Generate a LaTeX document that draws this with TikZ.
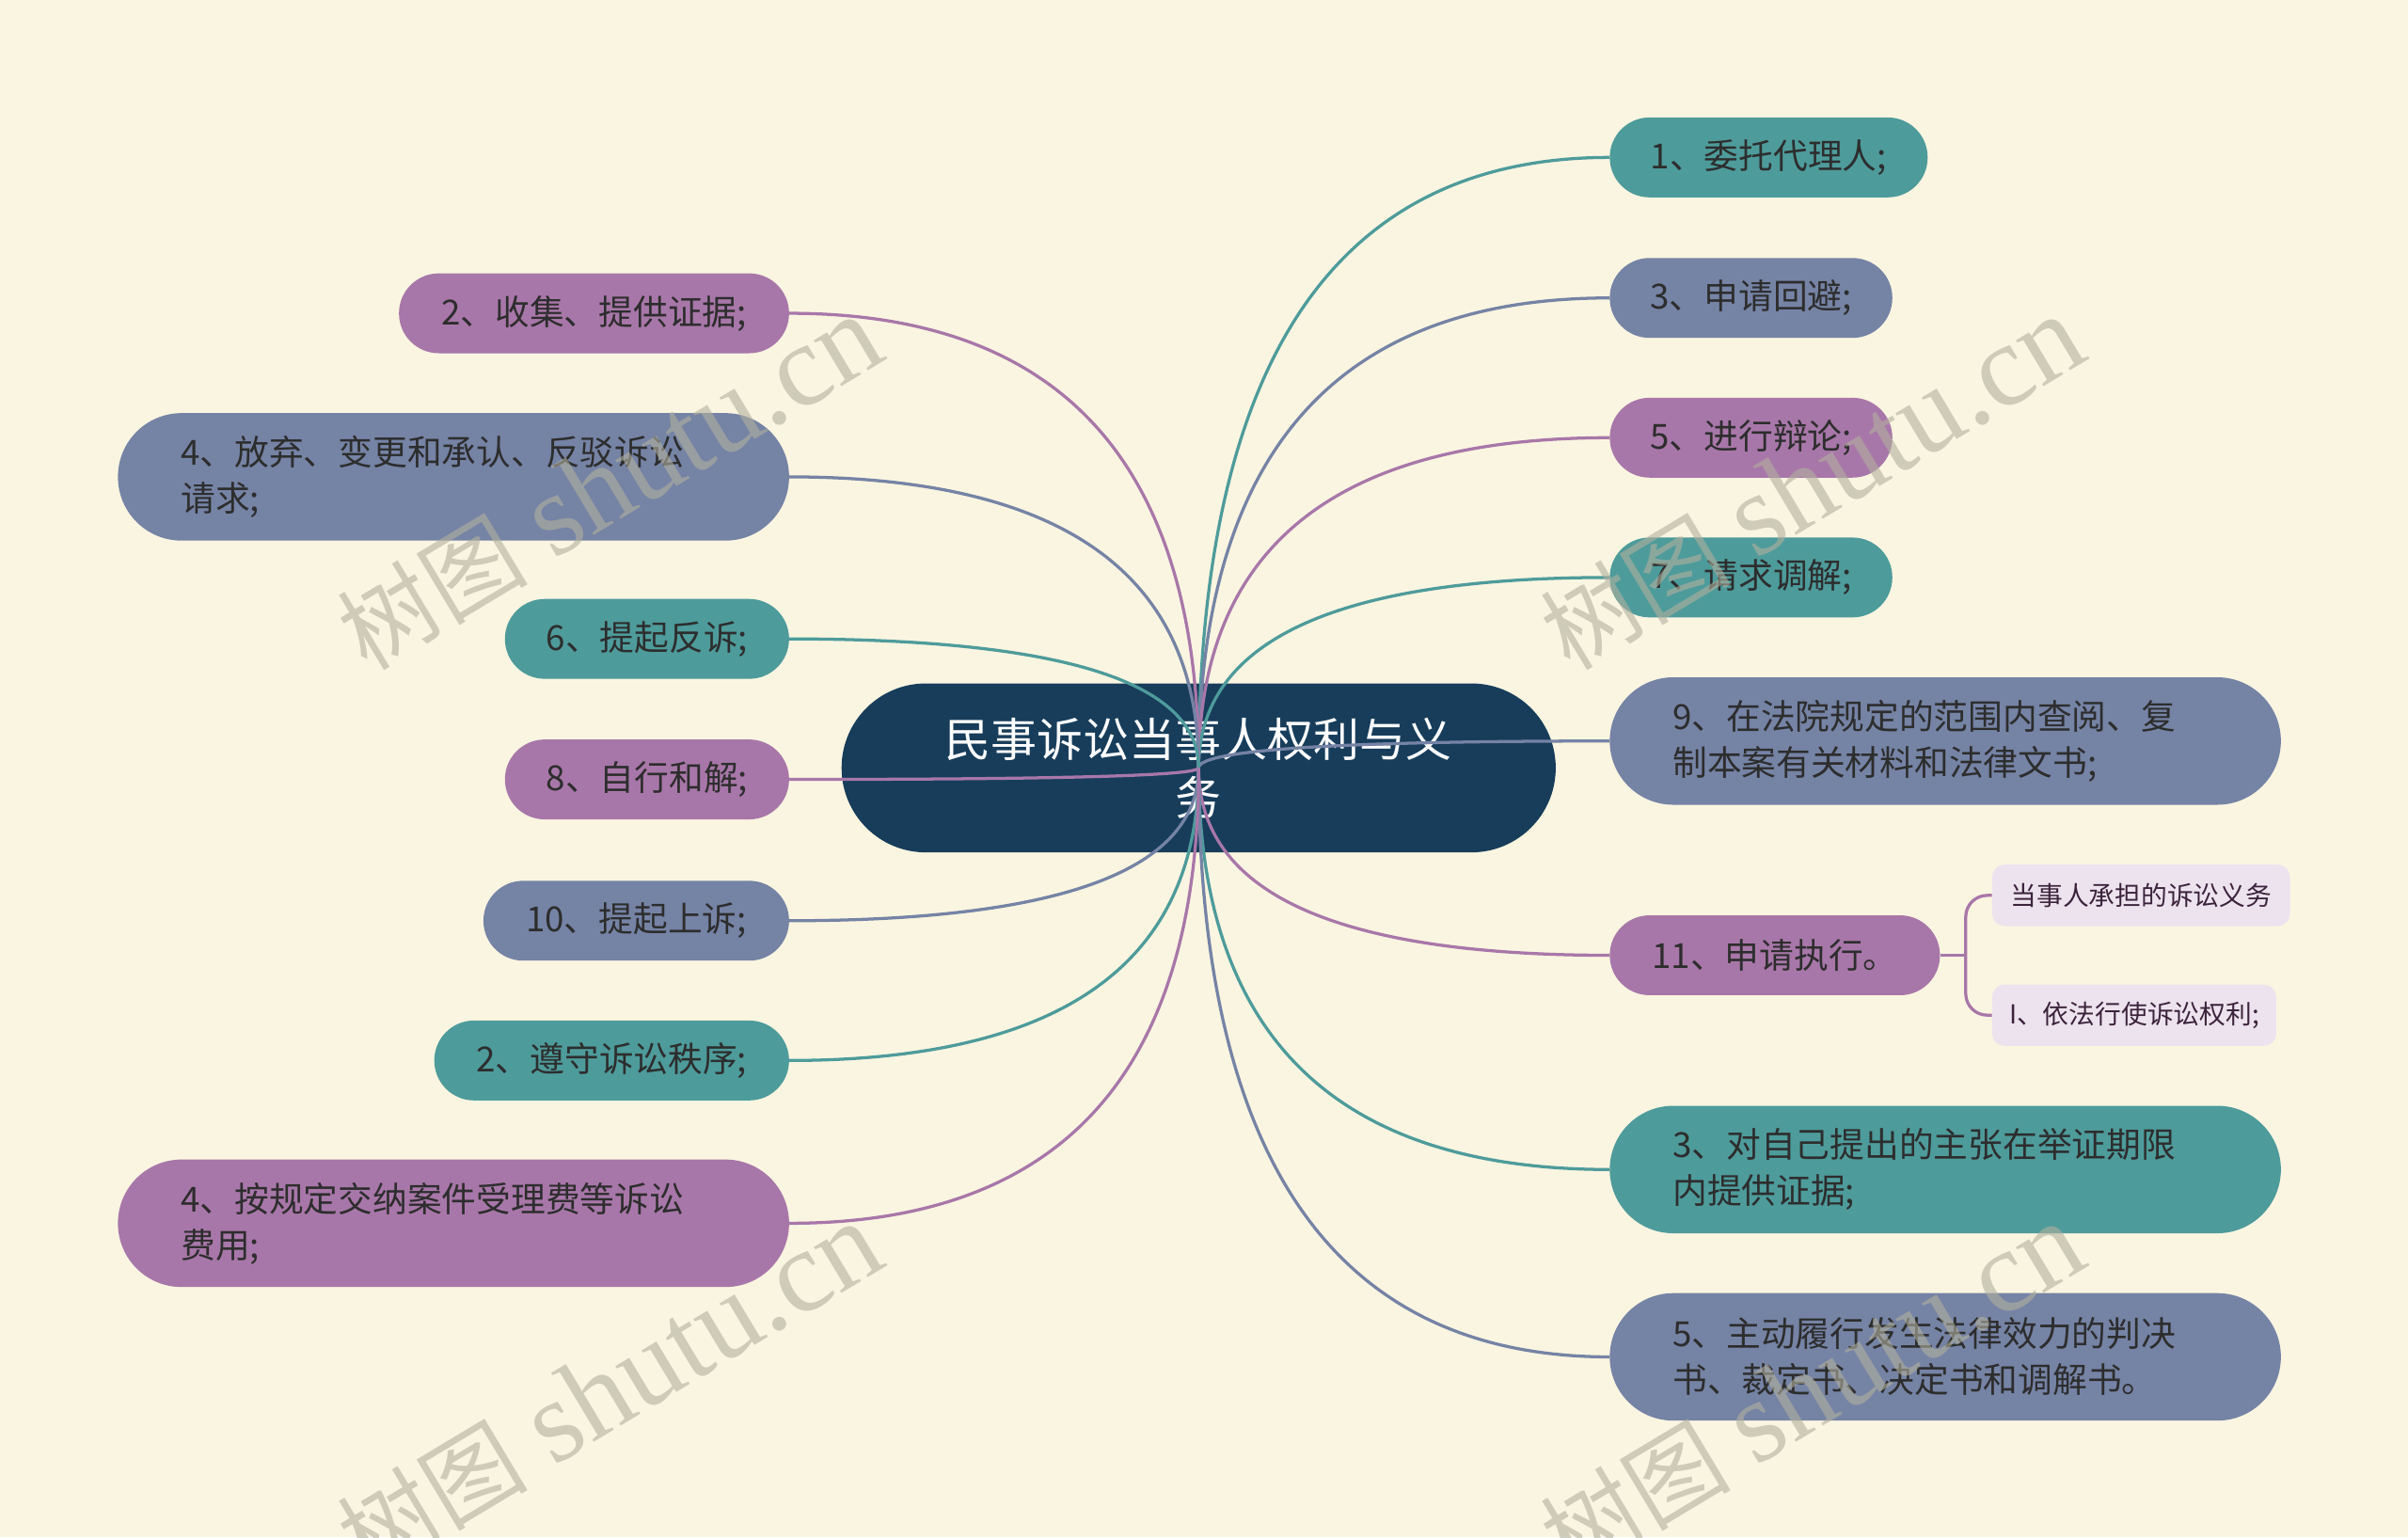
\documentclass[tikz,border=0pt]{standalone}
\usepackage{fontspec}
\setmainfont{Noto Sans CJK SC}
\newfontfamily\wmserif{Liberation Serif}
\usetikzlibrary{calc}
\definecolor{bg}{RGB}{250,245,225}
\definecolor{teal1}{RGB}{78,155,155}
\definecolor{slate1}{RGB}{117,131,165}
\definecolor{purp1}{RGB}{168,119,169}
\definecolor{navy1}{RGB}{23,61,91}
\definecolor{txt}{RGB}{45,45,45}
\definecolor{leafbg}{RGB}{237,227,238}
\definecolor{leaftxt}{RGB}{60,35,60}
\definecolor{wm}{RGB}{178,176,158}
\newcommand\mlink[3]{%
  \coordinate (q) at (ctr.center |- #1.#2);
  \draw[link,#3] (ctr.center) .. controls ($(ctr.center)!0.667!(q)$) and ($(#1.#2)!0.667!(q)$) .. (#1.#2);}
\newcommand\wmtext{{\fontsize{62}{62}\selectfont 树图} {\wmserif shutu.cn}}
\begin{document}
\begin{tikzpicture}[x=1pt,y=-1pt,
  pill/.style={rounded corners=25.9pt, minimum height=52pt, inner sep=0pt, font=\fontsize{22.5}{30}\selectfont, text=txt, align=center},
  pilltwo/.style={rounded corners=41.4pt, minimum height=83pt, inner xsep=41pt, inner ysep=0pt, text width=355pt, align=left, font=\fontsize{22.5}{30}\selectfont, text=txt},
  leafbox/.style={fill=leafbg, rounded corners=8pt, minimum height=40pt, inner sep=0pt, font=\fontsize{17}{20}\selectfont, text=leaftxt, align=center},
  link/.style={line width=2pt},
  wmark/.style={text=wm, text opacity=0.6, rotate=31, inner sep=0pt, font=\fontsize{76}{76}\selectfont}
]
\useasboundingbox (0,0) rectangle (1568,1001);
\fill[bg] (0,0) rectangle (1568,1001);

% central topic
\node[fill=navy1, rounded corners=54.9pt, minimum width=465pt, minimum height=110pt, inner sep=0pt, text=white, align=center, font=\fontsize{30}{38}\selectfont] (ctr) at (780.5,500) {民事诉讼当事人权利与义\\务};

% right branches
\node[pill, fill=teal1, minimum width=207pt, anchor=west] (r1) at (1048,102.5) {1、委托代理人;};
\node[pill, fill=slate1, minimum width=184pt, anchor=west] (r3) at (1048,194) {3、申请回避;};
\node[pill, fill=purp1, minimum width=184pt, anchor=west] (r5) at (1048,285) {5、进行辩论;};
\node[pill, fill=teal1, minimum width=184pt, anchor=west] (r7) at (1048,376) {7、请求调解;};
\node[pilltwo, fill=slate1, anchor=west] (r9) at (1048,482.5) {9、在法院规定的范围内查阅、复\\制本案有关材料和法律文书;};
\node[pill, fill=purp1, minimum width=215pt, anchor=west] (r11) at (1048,622) {11、申请执行。};
\node[pilltwo, fill=teal1, anchor=west] (r3b) at (1048,761.5) {3、对自己提出的主张在举证期限\\内提供证据;};
\node[pilltwo, fill=slate1, anchor=west] (r5b) at (1048,883.5) {5、主动履行发生法律效力的判决\\书、裁定书、决定书和调解书。};

% left branches
\node[pill, fill=purp1, minimum width=254pt, anchor=east] (l2) at (514,204) {2、收集、提供证据;};
\node[pilltwo, fill=slate1, anchor=east] (l4) at (514,310.5) {4、放弃、变更和承认、反驳诉讼\\请求;};
\node[pill, fill=teal1, minimum width=185pt, anchor=east] (l6) at (514,416) {6、提起反诉;};
\node[pill, fill=purp1, minimum width=185pt, anchor=east] (l8) at (514,507.5) {8、自行和解;};
\node[pill, fill=slate1, minimum width=199pt, anchor=east] (l10) at (514,599.5) {10、提起上诉;};
\node[pill, fill=teal1, minimum width=231pt, anchor=east] (l2b) at (514,690.5) {2、遵守诉讼秩序;};
\node[pilltwo, fill=purp1, anchor=east] (l4b) at (514,796.5) {4、按规定交纳案件受理费等诉讼\\费用;};

% sub-topics of 11
\node[leafbox, minimum width=194pt, anchor=west] (s1) at (1297,583) {当事人承担的诉讼义务};
\node[leafbox, minimum width=185pt, anchor=west] (s2) at (1297,661) {I、依法行使诉讼权利;};

% connectors
\mlink{r1}{west}{teal1}
\mlink{r3}{west}{slate1}
\mlink{r5}{west}{purp1}
\mlink{r7}{west}{teal1}
\mlink{r9}{west}{slate1}
\mlink{r11}{west}{purp1}
\mlink{r3b}{west}{teal1}
\mlink{r5b}{west}{slate1}
\mlink{l2}{east}{purp1}
\mlink{l4}{east}{slate1}
\mlink{l6}{east}{teal1}
\mlink{l8}{east}{purp1}
\mlink{l10}{east}{slate1}
\mlink{l2b}{east}{teal1}
\mlink{l4b}{east}{purp1}

\coordinate (bx) at (1280,622);
\draw[link, purp1] (r11.east) -- (bx);
\draw[link, purp1, rounded corners=14pt] (s1.west) -| (bx) |- (s2.west);

% watermarks
\node[wmark] (w1) at (397,315) {\wmtext};
\node[wmark] (w2) at (1180,315) {\wmtext};
\node[wmark] (w3) at (397,905) {\wmtext};
\node[wmark] (w4) at (1180,905) {\wmtext};
\end{tikzpicture}
\end{document}
